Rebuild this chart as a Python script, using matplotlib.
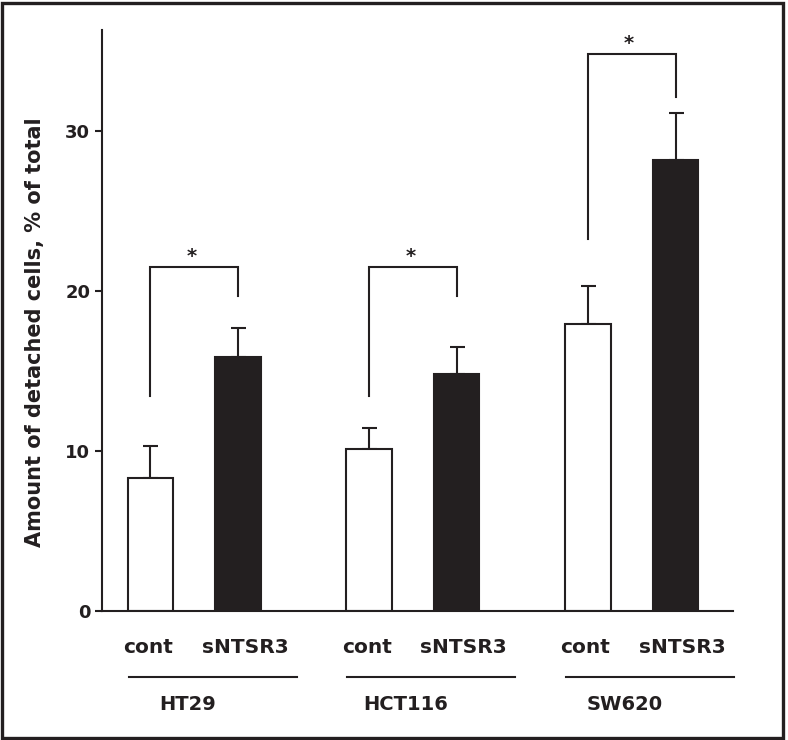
import matplotlib
matplotlib.use("Agg")
import matplotlib.pyplot as plt
from matplotlib.patches import Rectangle
from matplotlib.transforms import blended_transform_factory
import numpy as np

plt.rcParams['font.family'] = ['DejaVu Sans']
plt.rcParams['font.weight'] = 'bold'

# values (% of detached cells)
cell_lines = ['HT29', 'HCT116', 'SW620']
conditions = ['cont', 'sNTSR3']
cont_means = [8.3, 10.1, 17.9]
cont_err = [2.0, 1.35, 2.4]
sntsr3_means = [15.85, 14.8, 28.2]
sntsr3_err = [1.85, 1.7, 2.9]
# significance brackets: top, low end over cont, low end over sNTSR3
bracket_top = [21.5, 21.5, 34.8]
bracket_left = [13.4, 13.4, 23.25]
bracket_right = [19.7, 19.7, 32.1]

ink = '#231f20'

fig = plt.figure(figsize=(7.88, 7.40), dpi=100)
ax = fig.add_axes([0.1294, 0.1747, 0.8008, 0.7847])

group_x = np.arange(3) * 2.5
cont_x = group_x
sn_x = group_x + 1.0
width = 0.52

ax.bar(cont_x, cont_means, width, color='white', edgecolor=ink, linewidth=1.5, zorder=2)
ax.bar(sn_x, sntsr3_means, width, color=ink, edgecolor=ink, linewidth=1.5, zorder=2)
ax.errorbar(cont_x, cont_means, yerr=[np.zeros(3), cont_err], fmt='none',
            ecolor=ink, elinewidth=1.5, capsize=5.4, capthick=1.5, zorder=1)
ax.errorbar(sn_x, sntsr3_means, yerr=[np.zeros(3), sntsr3_err], fmt='none',
            ecolor=ink, elinewidth=1.5, capsize=5.4, capthick=1.5, zorder=1)

for i in range(3):
    x0, x1 = cont_x[i], sn_x[i]
    ax.plot([x0, x0, x1, x1], [bracket_left[i], bracket_top[i], bracket_top[i], bracket_right[i]],
            color=ink, lw=1.5, solid_joinstyle='miter')
    ax.text((x0 + x1) / 2 - 0.03, bracket_top[i] + 0.05, '*', ha='center', va='bottom',
            fontsize=14, color=ink)

ax.set_xlim(-0.554, 6.657)
ax.set_ylim(0, 36.3)
ax.set_yticks([0, 10, 20, 30])
ax.tick_params(axis='y', direction='out', length=5, width=1.5, pad=3.5,
               labelsize=13, colors=ink)
for lab in ax.get_yticklabels():
    lab.set_fontweight('bold')
ax.set_xticks([])
for s in ['top', 'right']:
    ax.spines[s].set_visible(False)
for s in ['left', 'bottom']:
    ax.spines[s].set_linewidth(1.5)
    ax.spines[s].set_color(ink)

ax.set_ylabel('Amount of detached cells, % of total', fontsize=15, fontweight='bold', color=ink)
ax.yaxis.set_label_coords(-0.091, 0.48)

trans = blended_transform_factory(ax.transData, ax.transAxes)
label_off = [-0.03, 0.08]
for i in range(3):
    for j, cond in enumerate(conditions):
        ax.text(group_x[i] + j + label_off[j], -0.064, cond, transform=trans, ha='center',
                va='center', fontsize=14.5, fontweight='bold', color=ink)
    ax.plot([group_x[i] - 0.25, group_x[i] + 1.67], [-0.114, -0.114], transform=trans,
            color=ink, lw=1.5, clip_on=False)
    ax.text(group_x[i] + 0.42, -0.162, cell_lines[i], transform=trans, ha='center',
            va='center', fontsize=14, fontweight='bold', color=ink)

fig.patches.append(Rectangle((0.003, 0.003), 0.991, 0.993, transform=fig.transFigure,
                             fill=False, edgecolor=ink, linewidth=2.4))

fig.savefig('out.png', dpi=100)
